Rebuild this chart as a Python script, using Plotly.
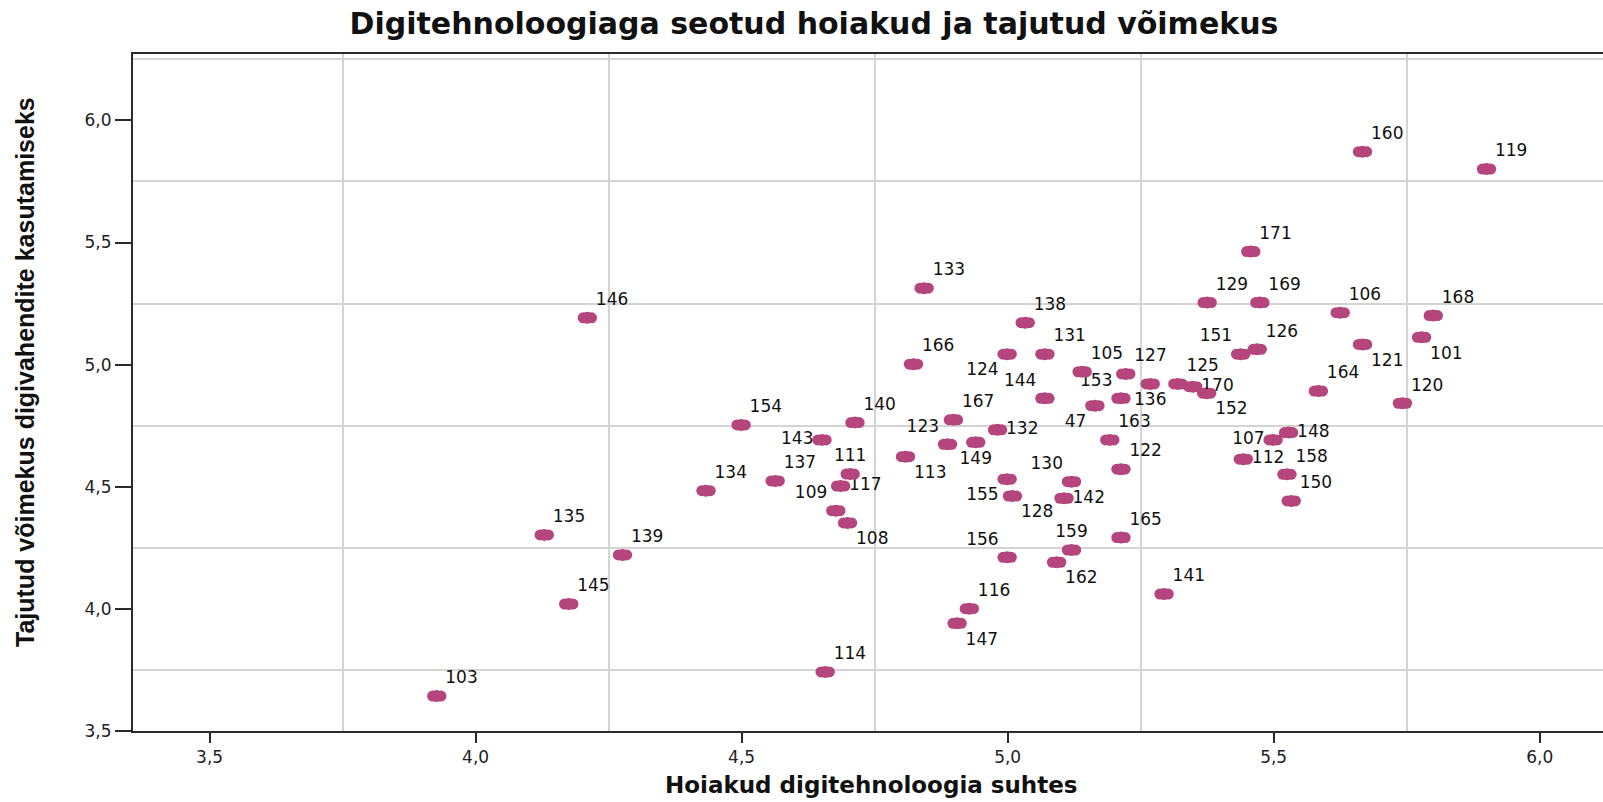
import plotly.graph_objects as go

# ---- data ----
labels = ["160", "119", "171", "133", "129", "169", "146", "138", "106", "168",
          "166", "124", "131", "105", "127", "151", "126", "121", "101", "164",
          "120", "144", "47", "153", "136", "125", "170", "152", "154", "140",
          "167", "143", "123", "132", "149", "113", "163", "122", "137", "111",
          "117", "109", "108", "134", "135", "139", "145", "103", "114", "155",
          "128", "130", "142", "148", "107", "112", "158", "150", "165", "159",
          "162", "156", "116", "147", "141"]

attitudes = [5.667, 5.900, 5.457, 4.843, 5.375, 5.474, 4.210, 5.033, 5.625, 5.800,
             4.823, 4.999, 5.070, 5.140, 5.222, 5.438, 5.469, 5.667, 5.778, 5.584,
             5.742, 5.070, 5.164, 5.213, 5.268, 5.320, 5.348, 5.374, 4.499, 4.713,
             4.898, 4.651, 4.887, 4.981, 4.940, 4.808, 5.192, 5.213, 4.563, 4.704,
             4.686, 4.677, 4.699, 4.433, 4.129, 4.276, 4.175, 3.927, 4.657, 4.999,
             5.009, 5.120, 5.106, 5.528, 5.499, 5.443, 5.525, 5.533, 5.213, 5.120,
             5.092, 4.999, 4.928, 4.905, 5.294]

ability = [5.872, 5.801, 5.463, 5.313, 5.254, 5.254, 5.192, 5.172, 5.213, 5.201,
           5.002, 5.043, 5.043, 4.971, 4.962, 5.043, 5.063, 5.083, 5.112, 4.892,
           4.842, 4.862, 4.832, 4.862, 4.921, 4.921, 4.910, 4.883, 4.753, 4.763,
           4.774, 4.692, 4.674, 4.733, 4.682, 4.623, 4.692, 4.572, 4.524, 4.552,
           4.503, 4.402, 4.352, 4.484, 4.303, 4.221, 4.020, 3.643, 3.742, 4.531,
           4.462, 4.521, 4.453, 4.722, 4.692, 4.613, 4.551, 4.442, 4.292, 4.241,
           4.191, 4.211, 4.001, 3.941, 4.061]

x_ticks = [3.5, 4.0, 4.5, 5.0, 5.5, 6.0]
y_ticks = [3.5, 4.0, 4.5, 5.0, 5.5, 6.0]

title_text = "Digitehnoloogiaga seotud hoiakud ja tajutud võimekus"
x_title = "Hoiakud digitehnoloogia suhtes"
y_title = "Tajutud võimekus digivahendite kasutamiseks"

# ---- style ----
label_style = {
    "124": "bottom left", "151": "top left", "121": "bottom right", "101": "bottom right",
    "144": "top left", "47": "bottom left", "153": "top left", "136": "bottom center",
    "170": "middle right", "152": "bottom right", "143": "middle left", "123": "top left",
    "132": "middle right", "149": "bottom center", "113": "bottom right", "111": "top center",
    "117": "middle right", "109": "top left", "108": "bottom right", "155": "bottom left",
    "128": "bottom right", "130": "top left", "142": "middle right", "148": "middle right",
    "107": "middle left", "112": "middle right", "159": "top center", "162": "bottom right",
    "156": "top left", "147": "bottom right",
}
text_pos = [label_style.get(l, "top right") for l in labels]

MARK = "#B4457D"
GRID = "#D4D4D4"
AXIS = "#2b2b2b"

X0, X1 = 3.356, 6.119
Y0, Y1 = 3.5, 6.272
W, H = 1603, 802
ML, MR, MT, MB = 133, 0, 54, 71
plot_w = W - ML - MR
shift = 4.2 * (X1 - X0) / plot_w  # side lobes so each dot reads as an ellipse

fig = go.Figure()
for ax in ("x2", "x3"):
    fig.add_trace(go.Scatter(
        x=attitudes, y=ability, mode="markers", xaxis=ax, yaxis="y",
        marker=dict(size=11, color=MARK, line=dict(width=0)),
        hoverinfo="skip", showlegend=False))
fig.add_trace(go.Scatter(
    x=attitudes, y=ability, mode="markers+text", text=labels,
    textposition=text_pos,
    textfont=dict(family="DejaVu Sans", size=17, color="#111111"),
    marker=dict(size=12, color=MARK, line=dict(width=0)),
    showlegend=False))

fig.update_layout(
    width=W, height=H,
    margin=dict(l=ML, r=MR, t=MT, b=MB),
    paper_bgcolor="white", plot_bgcolor="white",
    separators=",.",
    title=dict(text=title_text, x=814 / W, xanchor="center", y=1 - 23 / H,
               yanchor="middle",
               font=dict(family="DejaVu Sans", size=30, color="#111111", weight="bold")),
    xaxis=dict(range=[X0, X1], tickvals=x_ticks, tickformat=".1f",
               ticks="outside", ticklen=10, tickwidth=2, tickcolor=AXIS,
               showline=True, linecolor=AXIS, linewidth=2, mirror=True,
               showgrid=False, zeroline=False,
               tickfont=dict(family="DejaVu Sans", size=17, color="#222222"),
               minor=dict(tickmode="array", tickvals=[3.75, 4.25, 4.75, 5.25, 5.75],
                          showgrid=True, gridcolor=GRID, gridwidth=1.5, ticks="")),
    xaxis2=dict(range=[X0 - shift, X1 - shift], overlaying="x", visible=False,
                anchor="y"),
    xaxis3=dict(range=[X0 + shift, X1 + shift], overlaying="x", visible=False,
                anchor="y"),
    yaxis=dict(range=[Y0, Y1], tickvals=y_ticks, tickformat=".1f",
               ticks="outside", ticklen=16, tickwidth=2, tickcolor=AXIS,
               showline=True, linecolor=AXIS, linewidth=2, mirror=False,
               showgrid=False, zeroline=False,
               tickfont=dict(family="DejaVu Sans", size=17, color="#222222"),
               minor=dict(tickmode="array",
                          tickvals=[3.75, 4.25, 4.75, 5.25, 5.75, 6.25],
                          showgrid=True, gridcolor=GRID, gridwidth=1.5, ticks="")),
    annotations=[
        dict(text=x_title, xref="paper", yref="paper",
             x=(872 - ML) / plot_w, y=-(785 - (H - MB)) / (H - MT - MB),
             xanchor="center", yanchor="middle", showarrow=False,
             font=dict(family="DejaVu Sans", size=23, color="#111111", weight="bold")),
        dict(text=y_title, xref="paper", yref="paper", textangle=-90,
             x=(25 - ML) / plot_w, y=((H - MB) - 372) / (H - MT - MB),
             xanchor="center", yanchor="middle", showarrow=False,
             font=dict(family="Liberation Sans", size=25, color="#111111", weight="bold")),
    ],
)

fig.write_html("out.html", config={"displayModeBar": False},
               post_script="document.body.style.margin='0';document.body.style.overflow='hidden';")
